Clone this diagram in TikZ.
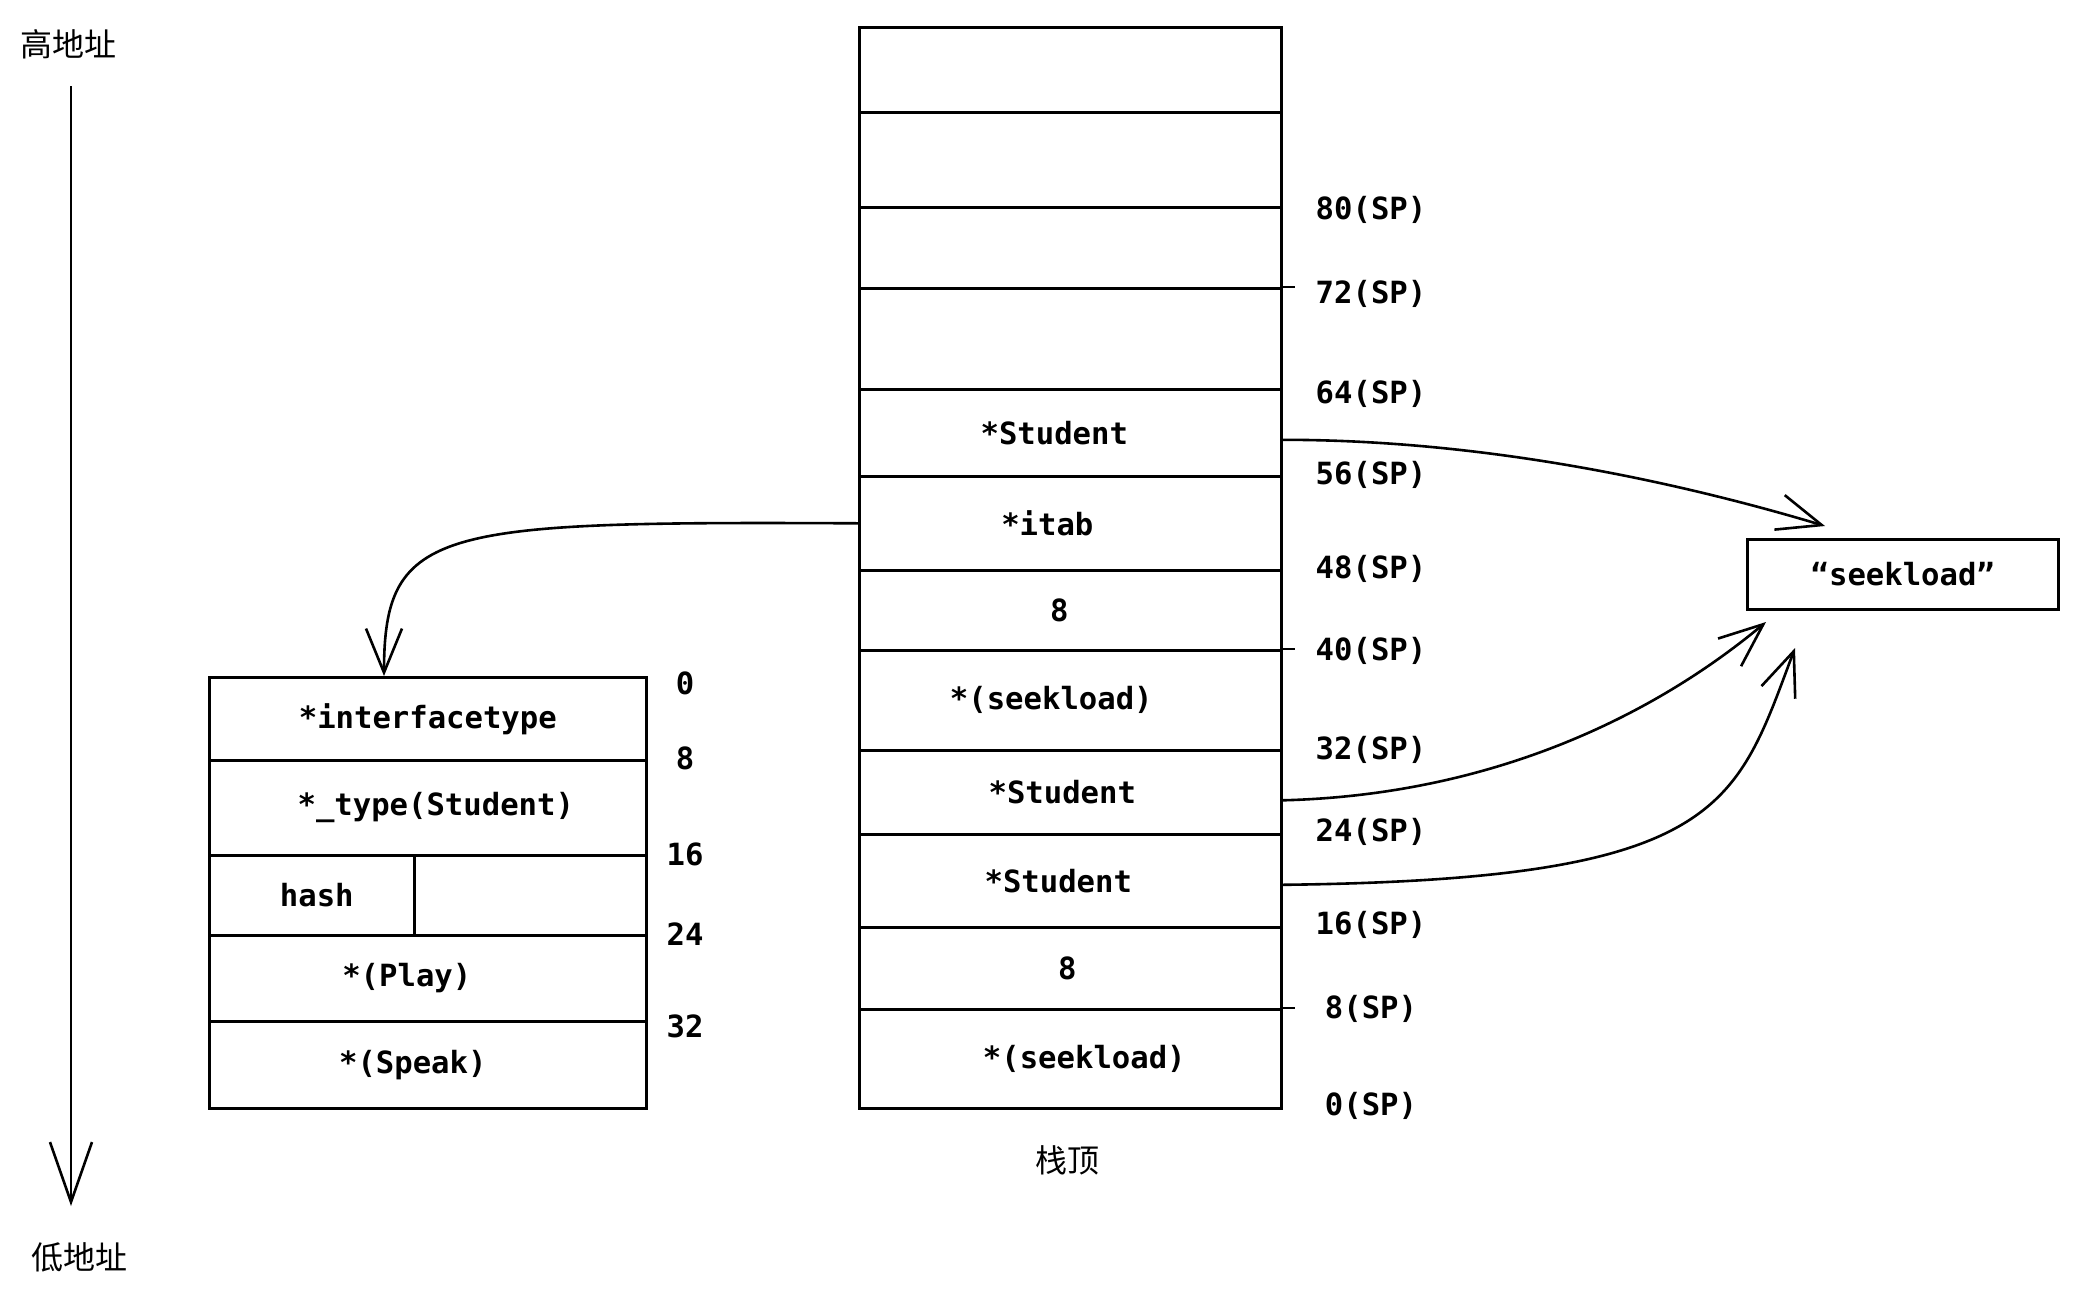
\documentclass[tikz,border=0pt]{standalone}
\usepackage{fontspec}
\setmonofont{DejaVu Sans Mono}
\newfontfamily\cjk{Noto Sans CJK SC}
\usetikzlibrary{arrows.meta}
\newcommand\shtxt[2]{\hspace*{#1pt}#2}
\begin{document}
\begin{tikzpicture}[x=0.5pt,y=-0.5pt,
  cell/.style={draw, line width=1.3pt, anchor=north west, inner sep=0pt,
    font=\fontsize{15.3}{18}\selectfont\ttfamily\bfseries},
  lbl/.style={font=\fontsize{15.3}{18}\selectfont\ttfamily\bfseries, inner sep=0pt},
  cjklbl/.style={font=\fontsize{16}{20}\selectfont\cjk, inner sep=0pt},
  conn/.style={line width=1.3pt, -{Straight Barb[length=22pt,width=18pt]}},
  axis/.style={line width=1.3pt, -{Straight Barb[length=30pt,width=21pt]}},
  tick/.style={line width=1.3pt},
]
\fill[white] (0,0) rectangle (2074,1297);
\useasboundingbox (0,0) rectangle (2074,1297);

% address axis
\node[cjklbl] (hi) at (68,44) {高地址};
\node[cjklbl] (lo) at (80,1257) {低地址};
\coordinate (axtop) at (71,86);
\coordinate (axbot) at (71,1206);
\draw[axis] (axtop) -- (axbot);

% stack
\node[cell, minimum width=211pt, minimum height=42.5pt] (s1) at (858,26) {};
\node[cell, minimum width=211pt, minimum height=47.5pt] (s2) at (858,111) {};
\node[cell, minimum width=211pt, minimum height=40.5pt] (s3) at (858,206) {};
\node[cell, minimum width=211pt, minimum height=50.5pt] (s4) at (858,287) {};
\node[cell, minimum width=211pt, minimum height=43.5pt] (s5) at (858,388) {\shtxt{-16}{*Student}};
\node[cell, minimum width=211pt, minimum height=47pt] (s6) at (858,475) {\shtxt{-23}{*itab}};
\node[cell, minimum width=211pt, minimum height=40pt] (s7) at (858,569) {\shtxt{-11}{8}};
\node[cell, minimum width=211pt, minimum height=50pt] (s8) at (858,649) {\shtxt{-19}{*(seekload)}};
\node[cell, minimum width=211pt, minimum height=42pt] (s9) at (858,749) {\shtxt{-8}{*Student}};
\node[cell, minimum width=211pt, minimum height=46.5pt] (s10) at (858,833) {\shtxt{-12}{*Student}};
\node[cell, minimum width=211pt, minimum height=41pt] (s11) at (858,926) {\shtxt{-3}{8}};
\node[cell, minimum width=211pt, minimum height=49.5pt] (s12) at (858,1008) {\shtxt{14}{*(seekload)}};
\draw[tick] (s4.north east) -- ++(12,0);
\draw[tick] (s8.north east) -- ++(12,0);
\draw[tick] (s12.north east) -- ++(12,0);

\node[cjklbl] (top) at (1067,1160) {栈顶};

% SP labels
\node[lbl] (sp80) at (1371,210) {80(SP)};
\node[lbl] (sp72) at (1371,294) {72(SP)};
\node[lbl] (sp64) at (1371,394) {64(SP)};
\node[lbl] (sp56) at (1371,475) {56(SP)};
\node[lbl] (sp48) at (1371,569) {48(SP)};
\node[lbl] (sp40) at (1371,651) {40(SP)};
\node[lbl] (sp32) at (1371,750) {32(SP)};
\node[lbl] (sp24) at (1371,832) {24(SP)};
\node[lbl] (sp16) at (1371,925) {16(SP)};
\node[lbl] (sp8) at (1371,1009) {8(SP)};
\node[lbl] (sp0) at (1371,1106) {0(SP)};

% itab box
\node[cell, minimum width=218.5pt, minimum height=41.5pt] (l1) at (208,676) {*interfacetype};
\node[cell, minimum width=218.5pt, minimum height=47.5pt] (l2) at (208,759) {\shtxt{8}{*\_type(Student)}};
\node[cell, minimum width=102.5pt, minimum height=40pt] (l3a) at (208,854) {\shtxt{5}{hash}};
\node[cell, minimum width=116pt, minimum height=40pt] (l3b) at (413,854) {};
\node[cell, minimum width=218.5pt, minimum height=43pt] (l4) at (208,934) {\shtxt{-21}{*(Play)}};
\node[cell, minimum width=218.5pt, minimum height=43.5pt] (l5) at (208,1020) {\shtxt{-15}{*(Speak)}};

\node[lbl] (o0) at (685,683) {0};
\node[lbl] (o8) at (685,758) {8};
\node[lbl] (o16) at (685,854) {16};
\node[lbl] (o24) at (685,934) {24};
\node[lbl] (o32) at (685,1026) {32};

% string box
\node[cell, minimum width=155.5pt, minimum height=35pt] (str) at (1746,538) {“seekload”};

% connectors
\coordinate (ltgt) at (384,676);
\coordinate (sk1) at (1825,526);
\coordinate (sk2) at (1766,622);
\coordinate (sk3) at (1795,648);
\draw[conn] (s6.west) .. controls +(-420,-2) and +(0,-150) .. (ltgt);
\draw[conn] ([yshift=-3.5pt]s5.east) .. controls +(200,0) and +(-150,-45) .. (sk1);
\draw[conn] ([yshift=-4pt]s9.east) .. controls +(200,-5) and +(-120,100) .. (sk2);
\draw[conn] ([yshift=-2pt]s10.east) .. controls +(440,-5) and +(-60,160) .. (sk3);
\end{tikzpicture}
\end{document}
